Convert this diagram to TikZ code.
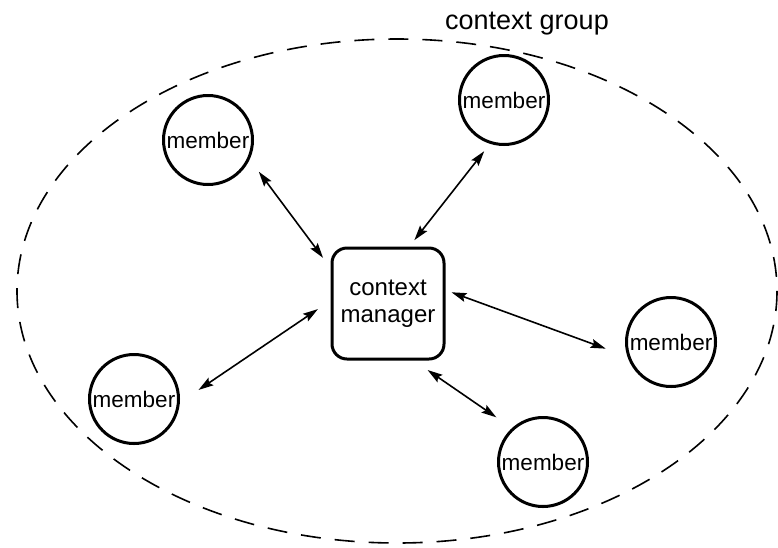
\documentclass[tikz,border=0pt]{standalone}
\usepackage{fontspec}
\setmainfont{Liberation Sans}
\usetikzlibrary{arrows.meta}
\begin{document}
\begin{tikzpicture}[x=1pt,y=-1pt,
  member/.style={circle,draw,line width=3pt,minimum size=89pt,inner sep=0pt,outer sep=0pt,
    font=\fontsize{22.5}{25}\selectfont},
  manager/.style={rectangle,draw,line width=3pt,rounded corners=15pt,minimum width=112pt,
    minimum height=111pt,inner sep=0pt,outer sep=0pt,align=center,
    font=\fontsize{24}{27}\selectfont},
  link/.style={line width=1.6pt,
    {Stealth[length=15pt,width=9pt,inset=2.5pt]}-{Stealth[length=15pt,width=9pt,inset=2.5pt]}},
  group/.style={line width=1.6pt,dash pattern=on 20pt off 14pt}]
\useasboundingbox (0,0) rectangle (778,547);

% the context group boundary
\draw[group] (397,291) ellipse [x radius=380, y radius=252];
\node[anchor=base,font=\fontsize{27}{32}\selectfont] (title) at (527,29) {context group};

% manager and members
\node[manager] (cm) at (388,303.5) {context\\manager};
\node[member] (m1) at (208,140) {member};
\node[member] (m2) at (504,100) {member};
\node[member] (m3) at (671,342) {member};
\node[member] (m4) at (543,462) {member};
\node[member] (m5) at (134,399) {member};

% two-way links
\draw[link,shorten <=17pt,shorten >=15pt] (m1.-24) -- (cm.149);
\draw[link,shorten <=11pt,shorten >=10pt] (m2.-107) -- (cm.70.5);
\draw[link,shorten <=8pt,shorten >=25pt] (cm.14.8) -- (m3.-160);
\draw[link,shorten <=19.5pt,shorten >=20.5pt] (cm.-67.5) -- (m4.132);
\draw[link,shorten <=17pt,shorten >=24.5pt] (cm.176) -- (m5.-6);
\end{tikzpicture}
\end{document}
